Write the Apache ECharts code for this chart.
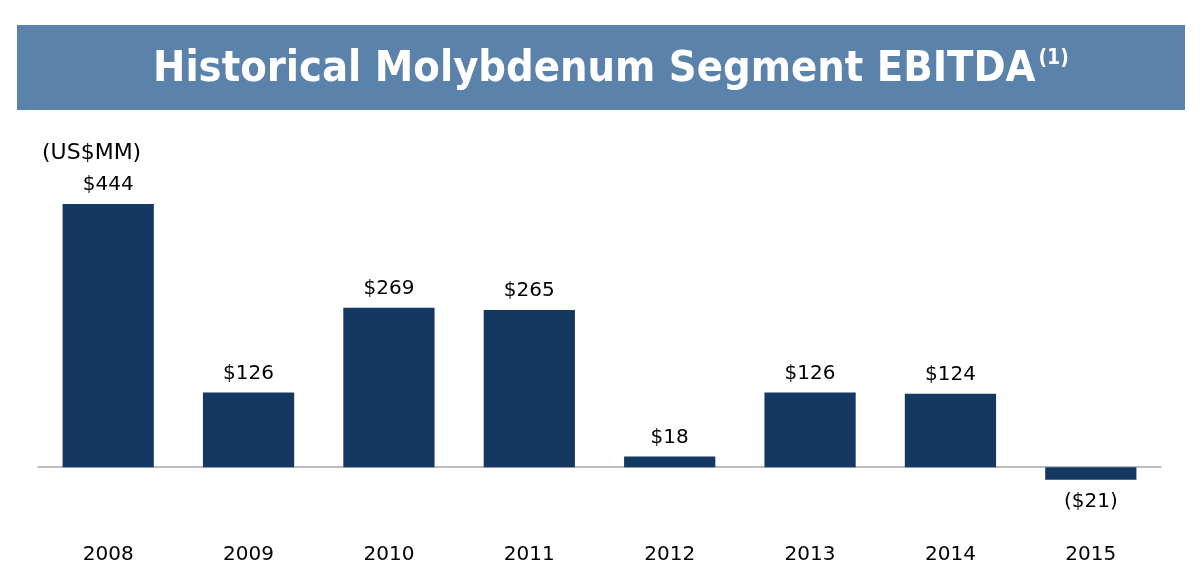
<!DOCTYPE html>
<html>
<head>
<meta charset="utf-8">
<script src="https://cdn.jsdelivr.net/npm/echarts@6/dist/echarts.min.js"></script>
<style>
  html, body { margin: 0; padding: 0; background: #fff; }
  #chart { width: 1202px; height: 576px; }
</style>
</head>
<body>
<div id="chart"></div>
<script>
var years = ['2008', '2009', '2010', '2011', '2012', '2013', '2014', '2015'];
var ebitda = [444, 126, 269, 265, 18, 126, 124, -21];

var chart = echarts.init(document.getElementById('chart'));

function money(v) {
    return v < 0 ? '($' + (-v) + ')' : '$' + v;
}

var option = {
    animation: false,
    graphic: [
        {
            type: 'rect',
            shape: { x: 17, y: 25, width: 1168, height: 85 },
            style: { fill: '#5b82ab' }
        },
        {
            type: 'text',
            x: 42, y: 153,
            style: {
                text: '(US$MM)',
                font: '22px "DejaVu Sans"',
                fill: '#000',
                verticalAlign: 'middle'
            }
        }
    ],
    title: {
        text: '{a|Historical Molybdenum Segment EBITDA}{b|(1)}',
        left: 148,
        top: 43,
        textStyle: {
            rich: {
                a: {
                    fontFamily: '"DejaVu Sans Condensed", "DejaVu Sans"',
                    fontWeight: 'bold',
                    fontSize: 43,
                    color: '#fff'
                },
                b: {
                    fontFamily: '"DejaVu Sans Condensed", "DejaVu Sans"',
                    fontWeight: 'bold',
                    fontSize: 21,
                    color: '#fff',
                    verticalAlign: 'top',
                    padding: [0, 0, 16, 3]
                }
            }
        }
    },
    grid: { left: 38, right: 41, top: 204, bottom: 94 },
    xAxis: {
        type: 'category',
        data: years,
        axisLine: { onZero: true, lineStyle: { color: '#a6a6a6', width: 1.5 } },
        axisTick: { show: false },
        axisLabel: {
            margin: 63,
            fontFamily: '"DejaVu Sans"',
            fontSize: 20,
            color: '#000'
        }
    },
    yAxis: {
        type: 'value',
        min: -25,
        max: 444,
        show: false,
        splitLine: { show: false }
    },
    series: [
        {
            type: 'bar',
            barWidth: '65%',
            itemStyle: { color: '#153863' },
            label: {
                show: true,
                position: 'top',
                distance: 9,
                fontFamily: '"DejaVu Sans"',
                fontSize: 20,
                color: '#000',
                formatter: function (p) { return money(p.value); }
            },
            // the negative bar carries its label below
            data: ebitda.map(function (v) {
                if (v < 0) {
                    return { value: v, label: { position: 'bottom', distance: 12 } };
                }
                return v;
            })
        }
    ]
};

chart.setOption(option);
</script>
</body>
</html>
